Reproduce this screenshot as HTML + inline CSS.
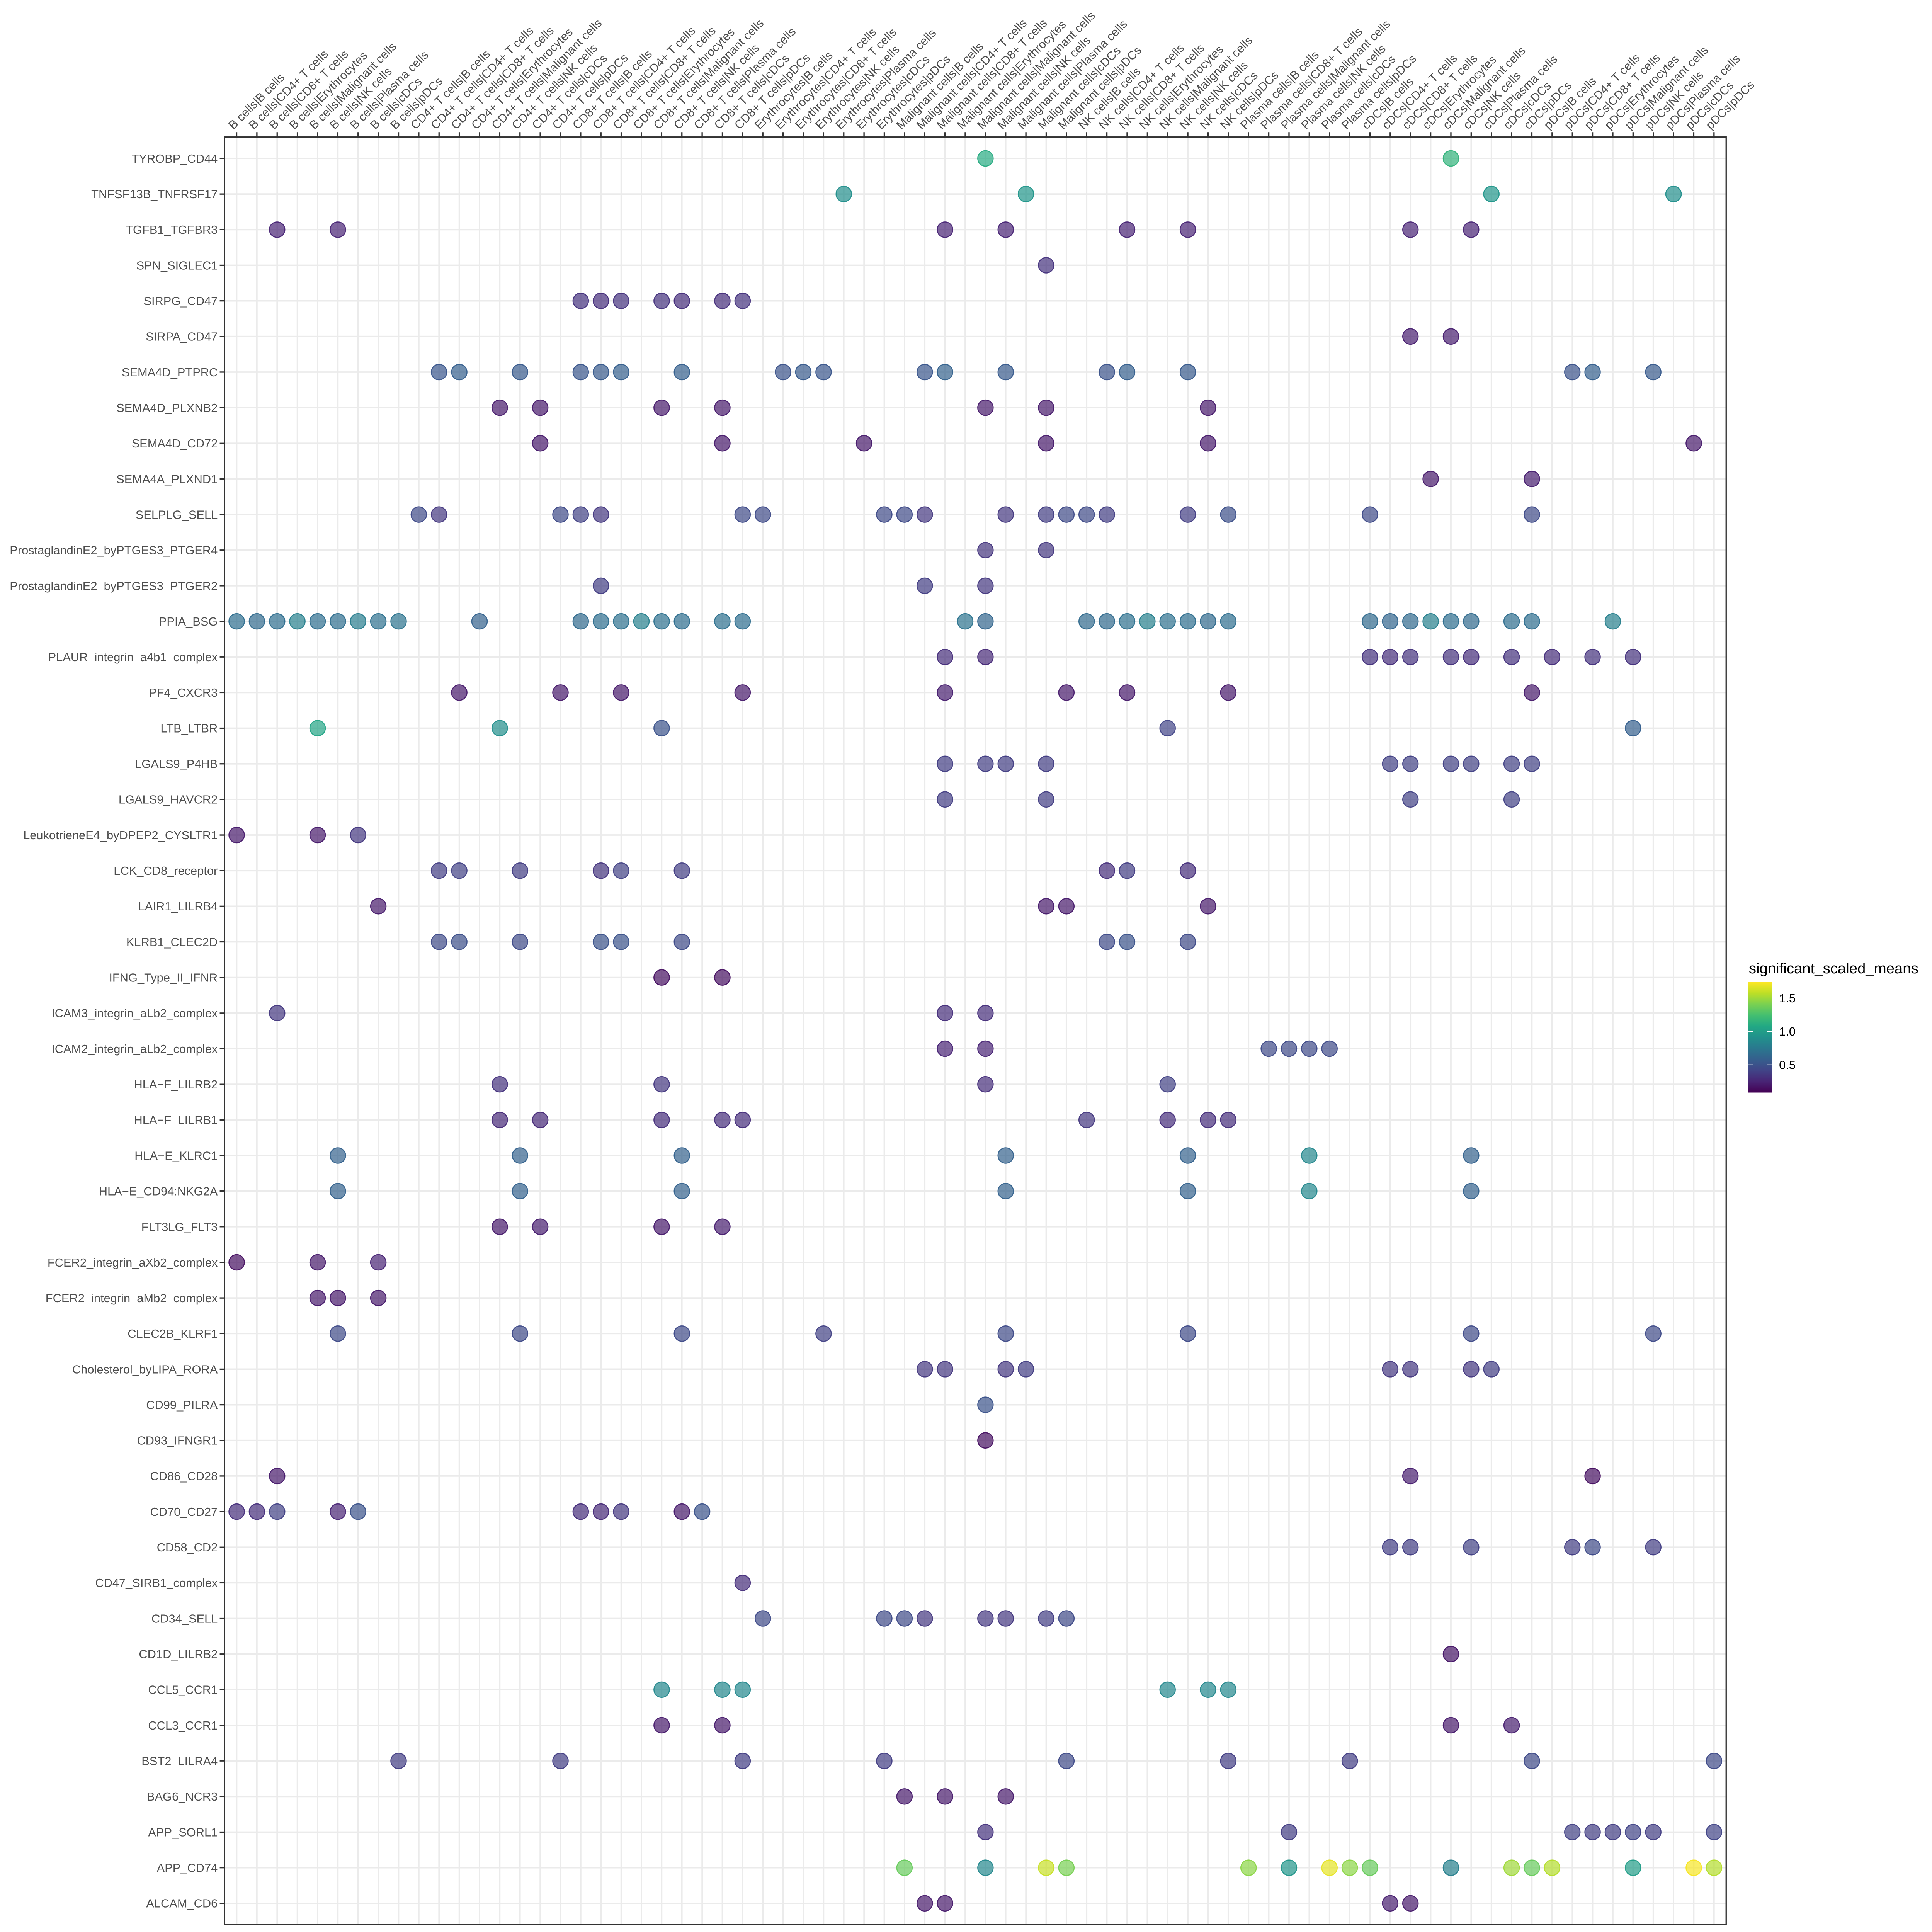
<!DOCTYPE html>
<html>
<head>
<meta charset="utf-8">
<style>
html,body{margin:0;padding:0;background:#fff;width:100%;height:100%;overflow:hidden;}
svg{display:block;font-family:"Liberation Sans",Arial,sans-serif;width:100vw;height:100vh;}
</style>
</head>
<body>
<svg id="chart" viewBox="0 0 6000 6000" preserveAspectRatio="xMidYMid meet" xmlns="http://www.w3.org/2000/svg">
  <rect x="0" y="0" width="6000" height="6000" fill="#ffffff"/>
  <g id="grid"></g>
  <g id="dots"></g>
  <rect id="panel" fill="none" stroke="#333333" stroke-width="4"/>
  <g id="yaxis"></g>
  <g id="xaxis"></g>
  <g id="legend">
    <defs>
      <linearGradient id="viridisGrad" x1="0" y1="1" x2="0" y2="0"></linearGradient>
    </defs>
    <text x="5431" y="3023" font-size="46" fill="#000">significant_scaled_means</text>
    <rect id="cbar" x="5430" y="3050" width="72" height="343" fill="url(#viridisGrad)"/>
    <g id="cbarTicks"></g>
  </g>
</svg>
<script>
const pairLabels = ["TYROBP_CD44","TNFSF13B_TNFRSF17","TGFB1_TGFBR3","SPN_SIGLEC1","SIRPG_CD47","SIRPA_CD47","SEMA4D_PTPRC","SEMA4D_PLXNB2","SEMA4D_CD72","SEMA4A_PLXND1","SELPLG_SELL","ProstaglandinE2_byPTGES3_PTGER4","ProstaglandinE2_byPTGES3_PTGER2","PPIA_BSG","PLAUR_integrin_a4b1_complex","PF4_CXCR3","LTB_LTBR","LGALS9_P4HB","LGALS9_HAVCR2","LeukotrieneE4_byDPEP2_CYSLTR1","LCK_CD8_receptor","LAIR1_LILRB4","KLRB1_CLEC2D","IFNG_Type_II_IFNR","ICAM3_integrin_aLb2_complex","ICAM2_integrin_aLb2_complex","HLA\u2212F_LILRB2","HLA\u2212F_LILRB1","HLA\u2212E_KLRC1","HLA\u2212E_CD94:NKG2A","FLT3LG_FLT3","FCER2_integrin_aXb2_complex","FCER2_integrin_aMb2_complex","CLEC2B_KLRF1","Cholesterol_byLIPA_RORA","CD99_PILRA","CD93_IFNGR1","CD86_CD28","CD70_CD27","CD58_CD2","CD47_SIRB1_complex","CD34_SELL","CD1D_LILRB2","CCL5_CCR1","CCL3_CCR1","BST2_LILRA4","BAG6_NCR3","APP_SORL1","APP_CD74","ALCAM_CD6"];

const cellPairLabels = ["B cells|B cells","B cells|CD4+ T cells","B cells|CD8+ T cells","B cells|Erythrocytes","B cells|Malignant cells","B cells|NK cells","B cells|Plasma cells","B cells|cDCs","B cells|pDCs",
"CD4+ T cells|B cells","CD4+ T cells|CD4+ T cells","CD4+ T cells|CD8+ T cells","CD4+ T cells|Erythrocytes","CD4+ T cells|Malignant cells","CD4+ T cells|NK cells","CD4+ T cells|cDCs","CD4+ T cells|pDCs",
"CD8+ T cells|B cells","CD8+ T cells|CD4+ T cells","CD8+ T cells|CD8+ T cells","CD8+ T cells|Erythrocytes","CD8+ T cells|Malignant cells","CD8+ T cells|NK cells","CD8+ T cells|Plasma cells","CD8+ T cells|cDCs","CD8+ T cells|pDCs",
"Erythrocytes|B cells","Erythrocytes|CD4+ T cells","Erythrocytes|CD8+ T cells","Erythrocytes|NK cells","Erythrocytes|Plasma cells","Erythrocytes|cDCs","Erythrocytes|pDCs",
"Malignant cells|B cells","Malignant cells|CD4+ T cells","Malignant cells|CD8+ T cells","Malignant cells|Erythrocytes","Malignant cells|Malignant cells","Malignant cells|NK cells","Malignant cells|Plasma cells","Malignant cells|cDCs","Malignant cells|pDCs",
"NK cells|B cells","NK cells|CD4+ T cells","NK cells|CD8+ T cells","NK cells|Erythrocytes","NK cells|Malignant cells","NK cells|NK cells","NK cells|cDCs","NK cells|pDCs",
"Plasma cells|B cells","Plasma cells|CD8+ T cells","Plasma cells|Malignant cells","Plasma cells|NK cells","Plasma cells|cDCs","Plasma cells|pDCs",
"cDCs|B cells","cDCs|CD4+ T cells","cDCs|CD8+ T cells","cDCs|Erythrocytes","cDCs|Malignant cells","cDCs|NK cells","cDCs|Plasma cells","cDCs|cDCs","cDCs|pDCs",
"pDCs|B cells","pDCs|CD4+ T cells","pDCs|CD8+ T cells","pDCs|Erythrocytes","pDCs|Malignant cells","pDCs|NK cells","pDCs|Plasma cells","pDCs|cDCs","pDCs|pDCs"];

// For each ligand-receptor pair (row), the cell-pair column indices that have a dot
const rowCols = [
[37,60],
[30,39,62,71],
[2,5,35,38,44,47,58,61],
[40],
[17,18,19,21,22,24,25],
[58,60],
[10,11,14,17,18,19,22,27,28,29,34,35,38,43,44,47,66,67,70],
[13,15,21,24,37,40,48],
[15,24,31,40,48,72],
[59,64],
[9,10,16,17,18,25,26,32,33,34,38,40,41,42,43,47,49,56,64],
[37,40],
[18,34,37],
[0,1,2,3,4,5,6,7,8,12,17,18,19,20,21,22,24,25,36,37,42,43,44,45,46,47,48,49,56,57,58,59,60,61,63,64,68],
[35,37,56,57,58,60,61,63,65,67,69],
[11,16,19,25,35,41,44,49,64],
[4,13,21,46,69],
[35,37,38,40,57,58,60,61,63,64],
[35,40,58,63],
[0,4,6],
[10,11,14,18,19,22,43,44,47],
[7,40,41,48],
[10,11,14,18,19,22,43,44,47],
[21,24],
[2,35,37],
[35,37,51,52,53,54],
[13,21,37,46],
[13,15,21,24,25,42,46,48,49],
[5,14,22,38,47,53,61],
[5,14,22,38,47,53,61],
[13,15,21,24],
[0,4,7],
[4,5,7],
[5,14,22,29,38,47,61,70],
[34,35,38,39,57,58,61,62],
[37],
[37],
[2,58,67],
[0,1,2,5,6,17,18,19,22,23],
[57,58,61,66,67,70],
[25],
[26,32,33,34,37,38,40,41],
[60],
[21,24,25,46,48,49],
[21,24,60,63],
[8,16,25,32,41,49,55,64,73],
[33,35,38],
[37,52,66,67,68,69,70,73],
[33,37,40,41,50,52,54,55,56,60,63,64,65,69,72,73],
[34,35,57,58]
];

// significant_scaled_means for each dot above (same order)
const rowValues = [
[1.1,1.15],
[0.9,0.95,0.95,0.9],
[0.25,0.25,0.25,0.25,0.25,0.25,0.25,0.25],
[0.32],
[0.32,0.3,0.32,0.32,0.3,0.3,0.32],
[0.22,0.22],
[0.52,0.58,0.55,0.52,0.55,0.58,0.58,0.5,0.55,0.52,0.52,0.6,0.55,0.5,0.58,0.55,0.5,0.58,0.55],
[0.2,0.2,0.2,0.2,0.2,0.2,0.2],
[0.2,0.2,0.2,0.2,0.2,0.2],
[0.2,0.22],
[0.45,0.35,0.45,0.4,0.35,0.45,0.45,0.45,0.45,0.35,0.35,0.38,0.45,0.45,0.38,0.38,0.48,0.45,0.45],
[0.33,0.35],
[0.38,0.38,0.35],
[0.68,0.65,0.68,0.8,0.68,0.68,0.78,0.7,0.72,0.6,0.65,0.68,0.7,0.8,0.7,0.68,0.7,0.68,0.72,0.62,0.65,0.65,0.7,0.8,0.7,0.68,0.65,0.68,0.65,0.62,0.65,0.8,0.68,0.65,0.68,0.68,0.8],
[0.3,0.28,0.32,0.3,0.32,0.32,0.3,0.32,0.3,0.32,0.32],
[0.2,0.2,0.2,0.2,0.22,0.2,0.2,0.2,0.2],
[1.05,0.9,0.5,0.42,0.58],
[0.38,0.38,0.38,0.38,0.4,0.4,0.4,0.4,0.4,0.4],
[0.38,0.38,0.4,0.4],
[0.2,0.2,0.35],
[0.38,0.4,0.38,0.33,0.4,0.38,0.3,0.38,0.3],
[0.2,0.2,0.2,0.2],
[0.45,0.48,0.45,0.5,0.5,0.45,0.45,0.5,0.45],
[0.15,0.15],
[0.35,0.3,0.3],
[0.25,0.25,0.45,0.45,0.45,0.45],
[0.32,0.35,0.3,0.4],
[0.28,0.28,0.3,0.3,0.3,0.35,0.3,0.3,0.3],
[0.6,0.6,0.6,0.6,0.6,0.85,0.6],
[0.6,0.6,0.6,0.6,0.6,0.85,0.6],
[0.2,0.22,0.2,0.22],
[0.15,0.2,0.25],
[0.2,0.2,0.2],
[0.45,0.45,0.45,0.4,0.45,0.45,0.45,0.45],
[0.35,0.35,0.35,0.38,0.35,0.35,0.35,0.38],
[0.5],
[0.15],
[0.2,0.22,0.15],
[0.3,0.3,0.4,0.25,0.5,0.3,0.28,0.35,0.2,0.5],
[0.38,0.38,0.4,0.38,0.45,0.38],
[0.3],
[0.45,0.45,0.45,0.35,0.35,0.35,0.38,0.45],
[0.18],
[0.85,0.85,0.85,0.85,0.85,0.85],
[0.2,0.2,0.2,0.22],
[0.38,0.38,0.38,0.38,0.45,0.38,0.38,0.45,0.45],
[0.2,0.2,0.2],
[0.32,0.38,0.4,0.38,0.38,0.42,0.38,0.42],
[1.35,0.85,1.6,1.4,1.45,0.95,1.68,1.45,1.35,0.8,1.5,1.35,1.55,1.0,1.72,1.55],
[0.2,0.2,0.22,0.2]
];

const legendTicks = [0.5, 1.0, 1.5];
const legendTickLabels = ["0.5", "1.0", "1.5"];
const colorMin = 0.083, colorMax = 1.739;

const NS = "http://www.w3.org/2000/svg";
const colStep = (5323 - 735) / 73;
const rowStep = (5911 - 492) / 49;
function xScale(c){ return 735 + c * colStep; }
function yScale(r){ return 492 + r * rowStep; }
const panelLeft = xScale(0) - 0.6 * colStep, panelRight = xScale(cellPairLabels.length - 1) + 0.6 * colStep;
const panelTop = yScale(0) - 0.6 * rowStep, panelBottom = yScale(pairLabels.length - 1) + 0.6 * rowStep;

const viridisStops = [[0,"#440154"],[0.1,"#482475"],[0.2,"#414487"],[0.3,"#355f8d"],[0.4,"#2a788e"],[0.5,"#21918c"],[0.6,"#22a884"],[0.7,"#44bf70"],[0.8,"#7ad151"],[0.9,"#bddf26"],[1,"#fde725"]];
function hex2rgb(h){ return [parseInt(h.slice(1,3),16),parseInt(h.slice(3,5),16),parseInt(h.slice(5,7),16)]; }
function viridis(t){
  t = Math.max(0, Math.min(1, t));
  for (let i = 1; i < viridisStops.length; i++) {
    if (t <= viridisStops[i][0]) {
      const a = viridisStops[i-1], b = viridisStops[i];
      const f = (t - a[0]) / (b[0] - a[0]);
      const ca = hex2rgb(a[1]), cb = hex2rgb(b[1]);
      return "rgb(" + ca.map((v,k) => Math.round(v + (cb[k]-v)*f)).join(",") + ")";
    }
  }
  return viridisStops[viridisStops.length-1][1];
}
function colorScale(v){ return viridis((v - colorMin) / (colorMax - colorMin)); }

const panel = document.getElementById("panel");
panel.setAttribute("x", panelLeft); panel.setAttribute("y", panelTop);
panel.setAttribute("width", panelRight - panelLeft); panel.setAttribute("height", panelBottom - panelTop);

const grid = document.getElementById("grid");
cellPairLabels.forEach((c, i) => {
  const l = document.createElementNS(NS, "line");
  l.setAttribute("x1", xScale(i)); l.setAttribute("x2", xScale(i));
  l.setAttribute("y1", panelTop); l.setAttribute("y2", panelBottom);
  l.setAttribute("stroke", "#ebebeb"); l.setAttribute("stroke-width", "4.5");
  
  
  grid.appendChild(l);
});
pairLabels.forEach((p, i) => {
  const l = document.createElementNS(NS, "line");
  l.setAttribute("x1", panelLeft); l.setAttribute("x2", panelRight);
  l.setAttribute("y1", yScale(i)); l.setAttribute("y2", yScale(i));
  l.setAttribute("stroke", "#ebebeb"); l.setAttribute("stroke-width", "4.5");
  
  
  grid.appendChild(l);
});

const yaxis = document.getElementById("yaxis");
pairLabels.forEach((p, i) => {
  const t = document.createElementNS(NS, "text");
  t.setAttribute("x", 676); t.setAttribute("y", yScale(i) + 13);
  t.setAttribute("text-anchor", "end"); t.setAttribute("font-size", "37"); t.setAttribute("fill", "#4d4d4d");
  t.textContent = p;
  
  
  yaxis.appendChild(t);
  const tk = document.createElementNS(NS, "line");
  tk.setAttribute("x1", panelLeft - 15); tk.setAttribute("x2", panelLeft);
  tk.setAttribute("y1", yScale(i)); tk.setAttribute("y2", yScale(i));
  tk.setAttribute("stroke", "#333333"); tk.setAttribute("stroke-width", "4");
  
  
  yaxis.appendChild(tk);
});

const xaxis = document.getElementById("xaxis");
cellPairLabels.forEach((c, i) => {
  const x = xScale(i);
  const tk = document.createElementNS(NS, "line");
  tk.setAttribute("x1", x); tk.setAttribute("x2", x);
  tk.setAttribute("y1", panelTop - 15); tk.setAttribute("y2", panelTop);
  tk.setAttribute("stroke", "#333333"); tk.setAttribute("stroke-width", "4");
  
  
  xaxis.appendChild(tk);
  const t = document.createElementNS(NS, "text");
  const ax = x - 10, ay = panelTop - 22;
  t.setAttribute("x", ax); t.setAttribute("y", ay);
  t.setAttribute("transform", "rotate(-45 " + ax + " " + ay + ")");
  t.setAttribute("font-size", "37"); t.setAttribute("fill", "#4d4d4d");
  t.textContent = c;
  
  
  xaxis.appendChild(t);
});

const dotsG = document.getElementById("dots");
rowCols.forEach((cols, r) => {
  cols.forEach((c, k) => {
    const v = rowValues[r][k];
    const col = colorScale(v);
    const d = document.createElementNS(NS, "circle");
    d.setAttribute("cx", xScale(c)); d.setAttribute("cy", yScale(r)); d.setAttribute("r", 24);
    d.setAttribute("fill", col); d.setAttribute("fill-opacity", "0.7");
    d.setAttribute("stroke", col); d.setAttribute("stroke-width", "3"); d.setAttribute("stroke-opacity", "0.95");
    
    
    dotsG.appendChild(d);
  });
});

const grad = document.getElementById("viridisGrad");
viridisStops.forEach(s => {
  const st = document.createElementNS(NS, "stop");
  st.setAttribute("offset", s[0]); st.setAttribute("stop-color", s[1]);
  grad.appendChild(st);
});
const cbY = 3050, cbH = 343;
function legendY(v){ return cbY + (colorMax - v) / (colorMax - colorMin) * cbH; }
const cbt = document.getElementById("cbarTicks");
legendTicks.forEach((v, i) => {
  const y = legendY(v);
  [[5430, 5444], [5488, 5502]].forEach(seg => {
    const l = document.createElementNS(NS, "line");
    l.setAttribute("x1", seg[0]); l.setAttribute("x2", seg[1]);
    l.setAttribute("y1", y); l.setAttribute("y2", y);
    l.setAttribute("stroke", "#ffffff"); l.setAttribute("stroke-width", "2");
    
    
    cbt.appendChild(l);
  });
  const t = document.createElementNS(NS, "text");
  t.setAttribute("x", 5525); t.setAttribute("y", y + 13);
  t.setAttribute("font-size", "37"); t.setAttribute("fill", "#000");
  t.textContent = legendTickLabels[i];
  
  
  cbt.appendChild(t);
});
</script>
</body>
</html>
